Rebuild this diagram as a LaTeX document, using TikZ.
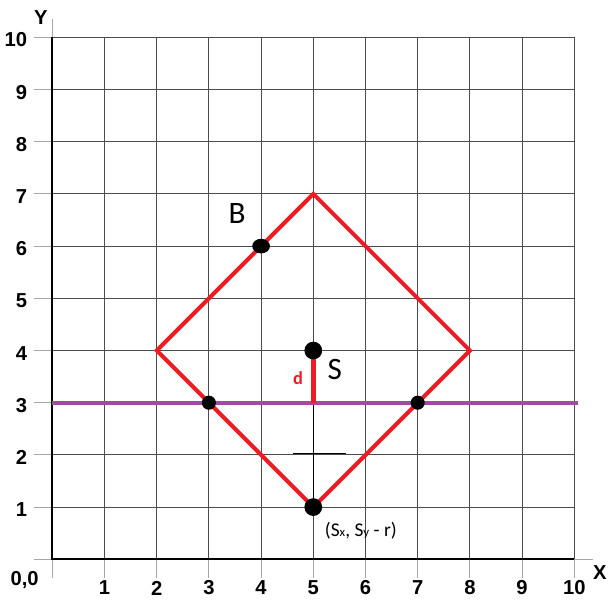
\documentclass[tikz,border=0pt]{standalone}
\usepackage{fontspec}
\setmainfont{Liberation Sans}
\newfontfamily\calibri{Carlito}
\usetikzlibrary{shapes.geometric}
\definecolor{paintred}{RGB}{237,28,36}
\definecolor{paintpurple}{RGB}{163,73,164}
\newcommand{\subsm}[1]{{\fontsize{7}{8}\selectfont #1}}

\begin{document}
\begin{tikzpicture}[every node/.style={font=\bfseries\fontsize{11}{13}\selectfont},
	dot/.style={circle, fill=black, inner sep=0pt, minimum size=#1}, dot/.default=2.7mm,
	note/.style={font=\calibri\fontsize{17}{20}\selectfont}]
	\useasboundingbox (-1.002,-0.875) rectangle (10.78,10.715);
	% grid with short ticks outside
	\foreach \i in {0,...,10} {
		\draw[black!35, line width=0.55pt] (-0.35,\i) -- (0,\i);
		\draw[black!35, line width=0.55pt] (\i,-0.35) -- (\i,0);
		\draw[black!70, line width=0.55pt] (0,\i) -- (10,\i);
		\draw[black!70, line width=0.55pt] (\i,0) -- (\i,10);
	}
	\foreach \i in {1,...,10} {
		\node[anchor=east] at (-0.36,\i-0.05) {\i};
		\node at (\i,-0.55) {\i};
	}
	\draw[black!35, line width=0.55pt] (0,10) -- (0,10.35);
	\draw[black!35, line width=0.55pt] (10,0) -- (10.35,0);
	\draw[black, line width=1.1pt] (0,10) -- (0,0) -- (10,0);
	\node at (-0.53,-0.40) {0,0};
	\node at (10.49,-0.26) {X};
	\node at (-0.22,10.37) {Y};
	% square around S
	\coordinate (top) at (5,7);
	\coordinate (right) at (8,4);
	\coordinate (bottom) at (5,1);
	\coordinate (left) at (2,4);
	\coordinate (Sc) at (5,4);
	\coordinate (foot) at (5,3);
	\coordinate (lineL) at (0,3);
	\coordinate (lineR) at (10.07,3);
	\coordinate (markL) at (4.61,2.02);
	\coordinate (markR) at (5.63,2.02);
	\draw[black, line width=0.55pt] (foot) -- (bottom);
	\draw[black, line width=0.55pt] (markL) -- (markR);
	\draw[paintpurple, line width=2.2pt] (lineL) -- (lineR);
	\draw[paintred, line width=2.2pt] (top) -- (right) -- (bottom) -- (left) -- cycle;
	\draw[paintred, line width=2.7pt] (Sc) -- (foot);
	\node[dot=3.4mm] (S) at (Sc) {};
	\node[dot=3.4mm] (Sbot) at (bottom) {};
	\node[dot] (P3) at (3,3) {};
	\node[dot] (P7) at (7,3) {};
	\node[ellipse, fill=black, inner sep=0pt, minimum width=3.4mm, minimum height=2.8mm] (Bdot) at (4,6) {};
	\node[note] (Blabel) at (3.54,6.63) {B};
	\node[note] (Slabel) at (5.41,3.63) {S};
	\node[font=\calibri\bfseries\fontsize{10}{12}\selectfont, paintred] (dlabel) at (4.71,3.47) {d};
	\node[font=\calibri\fontsize{10.6}{12}\selectfont] (botlabel) at (5.91,0.54) {(S\subsm{x}, S\subsm{y} - r)};
\end{tikzpicture}
\end{document}
